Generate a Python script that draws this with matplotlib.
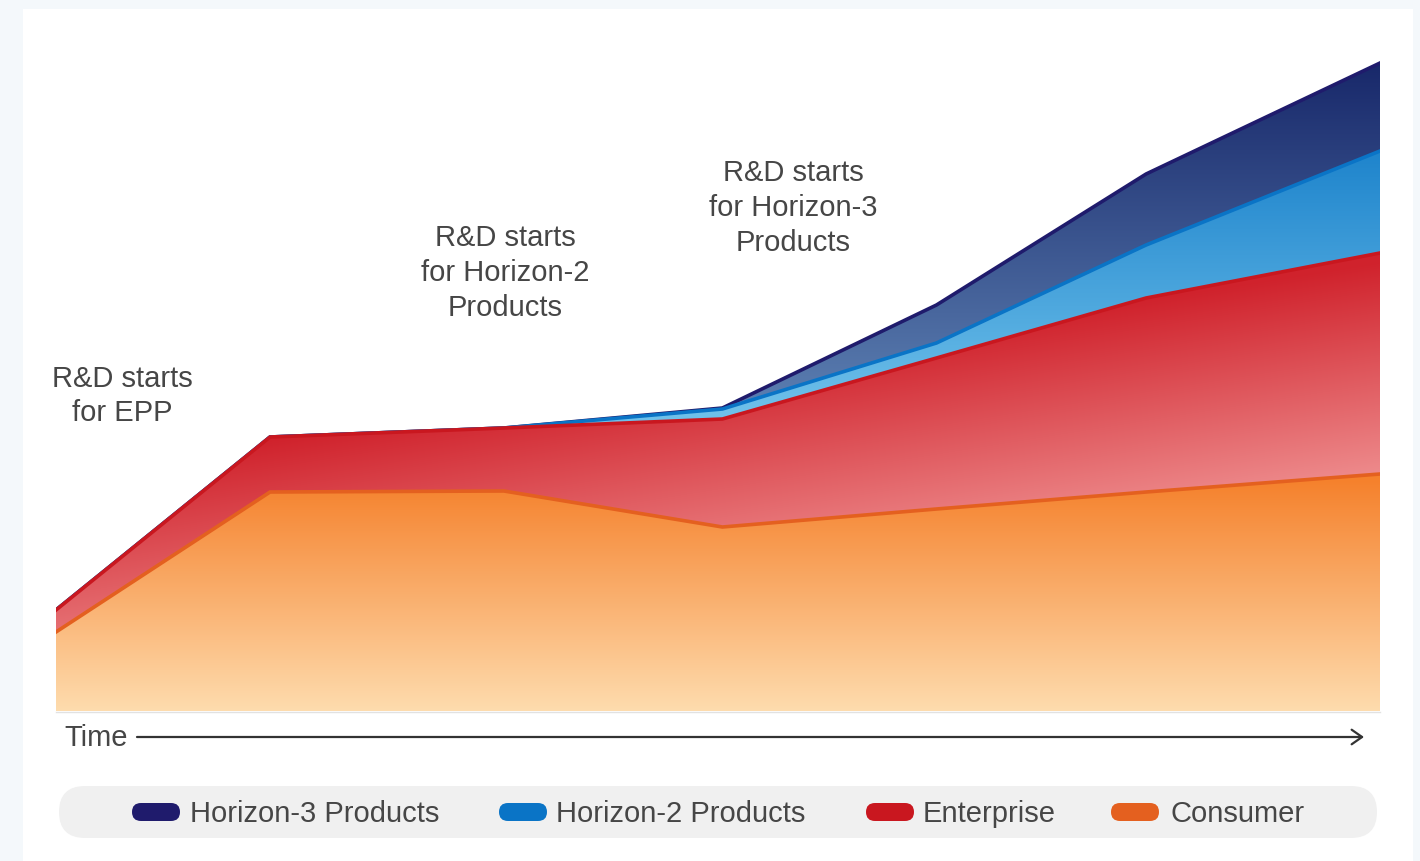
import numpy as np
import matplotlib
matplotlib.use("Agg")
import matplotlib.pyplot as plt
from matplotlib.patches import FancyBboxPatch, FancyArrowPatch, Rectangle
from matplotlib.colors import to_rgb

# ---------------- data ----------------
time = [0.0, 0.97, 2.03, 3.02, 3.99, 4.94, 6.0]
consumer = [7.9, 21.9, 22.0, 18.4, 20.2, 21.9, 23.7]
enterprise = [2.2, 5.5, 6.3, 10.8, 15.1, 19.4, 22.1]
horizon2 = [0.0, 0.0, 0.0, 1.0, 1.5, 5.3, 10.2]
horizon3 = [0.0, 0.0, 0.0, 0.1, 3.8, 7.1, 8.8]

series_names = ["Horizon-3 Products", "Horizon-2 Products", "Enterprise", "Consumer"]
annotations = ["R&D starts\nfor EPP",
               "R&D starts\nfor Horizon-2\nProducts",
               "R&D starts\nfor Horizon-3\nProducts"]
axis_label = "Time"

# ---------------- styling ----------------
FONT = "Liberation Sans"
TXT = "#464646"
FS = 21
line_colors = {"Horizon-3 Products": "#1f1b6c",
               "Horizon-2 Products": "#0a74c6",
               "Enterprise": "#c9171f",
               "Consumer": "#e4601f"}

W, H = 1420, 861
L, R, T, B = 56, 1380, 40, 711

fig = plt.figure(figsize=(W / 100, H / 100), dpi=100)
fig.patch.set_facecolor("#f4f8fb")

bg = fig.add_axes([0, 0, 1, 1], zorder=0)
bg.set_xlim(0, W)
bg.set_ylim(H, 0)
bg.axis("off")
bg.add_patch(Rectangle((23, 9), 1390, 870, facecolor="white", edgecolor="none"))

ax = fig.add_axes([L / W, 1 - B / H, (R - L) / W, (B - T) / H], zorder=1)
ax.patch.set_alpha(0)
ymax = (B - T) / 10.0
ax.set_xlim(0, 6)
ax.set_ylim(0, ymax)
ax.axis("off")

t = np.array(time)
c_top = np.array(consumer)
e_top = c_top + np.array(enterprise)
h2_top = e_top + np.array(horizon2)
h3_top = h2_top + np.array(horizon3)


def grad_image(p0, p1, c0, c1):
    xs = np.arange(L, R) + 0.5
    ys = np.arange(T, B) + 0.5
    X, Y = np.meshgrid(xs, ys)
    d = np.array(p1, float) - np.array(p0, float)
    tt = ((X - p0[0]) * d[0] + (Y - p0[1]) * d[1]) / (d @ d)
    tt = np.clip(tt, 0, 1)[..., None]
    a = np.array(to_rgb(c0))
    b = np.array(to_rgb(c1))
    return a * (1 - tt) + b * tt


def layer(lower, upper, name, grad, z):
    poly = ax.fill_between(t, lower, upper, facecolor="none", edgecolor="none", zorder=z)
    img = grad_image(*grad)
    im = ax.imshow(img, extent=(0, 6, 0, ymax), origin="upper", aspect="auto",
                   interpolation="bilinear", zorder=z)
    im.set_clip_path(poly.get_paths()[0], transform=ax.transData)
    ax.plot(t, upper, color=line_colors[name], lw=2.6, zorder=z + 0.5,
            solid_joinstyle="miter")


layer(h2_top, h3_top, "Horizon-3 Products", ((0, 63), (0, 400), "#18286a", "#5a7db0"), 2)
layer(e_top, h2_top, "Horizon-2 Products", ((0, 151), (0, 410), "#1e84cc", "#6ec0ea"), 4)
layer(c_top, e_top, "Enterprise", ((269, 440), (307, 677), "#d0222c", "#f29a9a"), 6)
layer(np.zeros_like(c_top), c_top, "Consumer", ((0, 480), (0, 711), "#f5812c", "#fedcae"), 8)

# baseline
bg.plot([L, R], [B + 0.5, B + 0.5], color="#e2e2e2", lw=1, zorder=3)

# annotations
ann_pos = [(122, 396), (505, 273), (793, 208)]
for txt, (x, y) in zip(annotations, ann_pos):
    bg.text(x, y, txt, ha="center", va="center", multialignment="center",
            fontsize=FS, family=FONT, color=TXT, linespacing=1.3)

# time axis
bg.text(64, 746, axis_label, ha="left", va="baseline", fontsize=FS, family=FONT, color=TXT)
bg.add_patch(FancyArrowPatch((137, 737), (1364, 737),
                             arrowstyle="->,head_length=0.5,head_width=0.35",
                             mutation_scale=15, lw=1.6, color="#333333",
                             shrinkA=0, shrinkB=0))

# legend
bg.add_patch(FancyBboxPatch((59, 786), 1318, 52,
                            boxstyle="round,pad=0,rounding_size=26",
                            facecolor="#f0f0f0", edgecolor="none"))
marker_x = [132, 499, 866, 1111]
text_x = [190, 556, 923, 1171]
for name, mx, tx in zip(series_names, marker_x, text_x):
    bg.add_patch(FancyBboxPatch((mx, 803), 48, 18,
                                boxstyle="round,pad=0,rounding_size=9",
                                facecolor=line_colors[name], edgecolor="none"))
    bg.text(tx, 822, name, ha="left", va="baseline", fontsize=FS, family=FONT, color=TXT)

fig.savefig("out.png", dpi=100, facecolor=fig.get_facecolor())
